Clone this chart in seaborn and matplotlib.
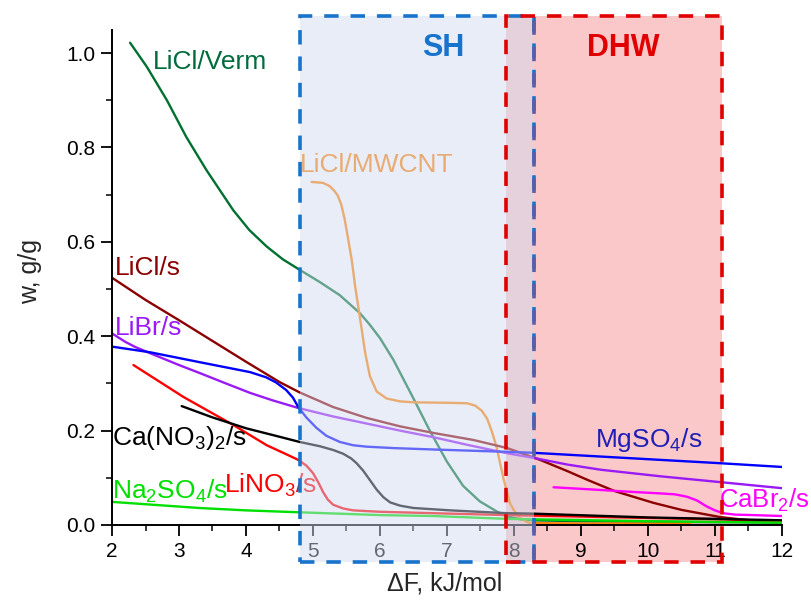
import matplotlib
matplotlib.use("Agg")
import matplotlib.pyplot as plt
import seaborn as sns
from matplotlib.patches import Rectangle
from matplotlib.ticker import MultipleLocator

# ---------------- data ----------------
verm_x = [2.27, 2.52, 2.82, 3.11, 3.41, 3.81, 4.05, 4.31, 4.55, 4.81, 5.1, 5.4, 5.7, 5.85, 6.0,
          6.2, 6.5, 6.75, 7.0, 7.24, 7.49, 7.74, 7.89, 8.1, 8.29, 9.0, 10.0, 11.0, 12.0]
verm_y = [1.022, 0.971, 0.900, 0.822, 0.752, 0.667, 0.625, 0.590, 0.563, 0.540, 0.515, 0.487,
          0.449, 0.424, 0.396, 0.350, 0.268, 0.198, 0.134, 0.083, 0.050, 0.029, 0.018, 0.012,
          0.010, 0.008, 0.007, 0.006, 0.005]

mwcnt_x = [4.98, 5.15, 5.25, 5.32, 5.37, 5.42, 5.47, 5.52, 5.58, 5.63, 5.70, 5.78, 5.85, 5.95,
           6.1, 6.3, 6.5, 7.0, 7.3, 7.42, 7.52, 7.6, 7.67, 7.74, 7.84, 7.94, 8.02, 8.09, 8.17, 8.24,
           9.0, 10.0, 10.63]
mwcnt_y = [0.727, 0.725, 0.718, 0.708, 0.698, 0.680, 0.650, 0.610, 0.560, 0.505, 0.440, 0.364,
           0.315, 0.283, 0.268, 0.262, 0.260, 0.259, 0.258, 0.253, 0.242, 0.225, 0.198, 0.165,
           0.100, 0.046, 0.026, 0.015, 0.008, 0.004, 0.003, 0.003, 0.003]

licl_x = [2.0, 2.5, 3.0, 3.5, 4.0, 4.5, 4.8, 5.3, 5.8, 6.3, 6.8, 7.4, 7.9, 8.39, 8.8, 9.09, 9.5,
          10.08, 10.5, 11.07, 11.5, 12.0]
licl_y = [0.524, 0.477, 0.434, 0.390, 0.346, 0.303, 0.281, 0.250, 0.227, 0.209, 0.195, 0.180,
          0.163, 0.138, 0.114, 0.096, 0.072, 0.047, 0.032, 0.017, 0.010, 0.005]

libr_x = [2.0, 2.1, 2.2, 2.35, 2.57, 3.0, 3.31, 3.7, 4.06, 4.4, 4.78, 5.3, 5.8, 6.3, 6.8, 7.3,
          7.9, 8.3, 8.8, 9.3, 10.2, 11.07, 12.0]
libr_y = [0.406, 0.397, 0.388, 0.377, 0.364, 0.339, 0.322, 0.300, 0.280, 0.264, 0.248, 0.230,
          0.215, 0.200, 0.186, 0.170, 0.152, 0.142, 0.128, 0.117, 0.103, 0.091, 0.078]

mgso4_x = [2.0, 2.57, 3.31, 4.06, 4.3, 4.45, 4.6, 4.7, 4.78, 4.9, 5.05, 5.2, 5.4, 5.6, 5.8, 6.2,
           6.8, 7.9, 8.29, 11.07, 12.0]
mgso4_y = [0.378, 0.366, 0.345, 0.324, 0.313, 0.302, 0.286, 0.270, 0.250, 0.228, 0.206, 0.189,
           0.176, 0.169, 0.166, 0.163, 0.160, 0.155, 0.153, 0.131, 0.123]

lino3_x = [2.32, 3.07, 3.81, 4.31, 4.6, 4.78, 4.9, 5.0, 5.08, 5.15, 5.22, 5.3, 5.45, 5.6, 6.0, 6.8,
           7.9, 8.3, 10.0, 11.07, 12.0]
lino3_y = [0.339, 0.271, 0.212, 0.169, 0.150, 0.138, 0.126, 0.110, 0.090, 0.070, 0.054, 0.043,
           0.035, 0.031, 0.028, 0.025, 0.021, 0.020, 0.015, 0.012, 0.008]

cano3_x = [3.04, 3.5, 4.0, 4.5, 4.8, 5.1, 5.3, 5.45, 5.57, 5.65, 5.75, 5.85, 5.95, 6.05, 6.15,
           6.3, 6.5, 7.05, 7.9, 8.3, 10.0, 12.0]
cano3_y = [0.252, 0.228, 0.205, 0.187, 0.176, 0.167, 0.159, 0.151, 0.141, 0.131, 0.115, 0.095,
           0.075, 0.059, 0.048, 0.041, 0.036, 0.031, 0.025, 0.024, 0.016, 0.010]

na2so4_x = [2.0, 2.5, 3.31, 4.0, 4.78, 6.0, 6.8, 7.9, 8.29, 10.0, 12.0]
na2so4_y = [0.049, 0.044, 0.036, 0.031, 0.027, 0.021, 0.019, 0.013, 0.012, 0.008, 0.005]

cabr2_x = [8.59, 9.2, 9.78, 10.18, 10.4, 10.58, 10.73, 10.88, 11.0, 11.12, 11.3, 11.57, 12.0]
cabr2_y = [0.080, 0.075, 0.070, 0.067, 0.065, 0.060, 0.052, 0.039, 0.031, 0.025, 0.022, 0.021,
           0.019]

series = [
    ("LiCl/Verm", verm_x, verm_y, "#007030"),
    ("LiCl/MWCNT", mwcnt_x, mwcnt_y, "#FF8000"),
    ("LiCl/s", licl_x, licl_y, "#8B0000"),
    ("LiBr/s", libr_x, libr_y, "#9A1AF5"),
    ("MgSO4/s", mgso4_x, mgso4_y, "#0000FF"),
    ("LiNO3/s", lino3_x, lino3_y, "#FF0000"),
    ("Ca(NO3)2/s", cano3_x, cano3_y, "#000000"),
    ("Na2SO4/s", na2so4_x, na2so4_y, "#00E000"),
    ("CaBr2/s", cabr2_x, cabr2_y, "#FF00FF"),
]

# labels: text, x, y(baseline), color
labels = [
    ("LiCl/Verm", 2.61, 0.966, "#006B3C"),
    ("LiCl/MWCNT", 4.81, 0.749, "#FF8000"),
    ("LiCl/s", 2.04, 0.530, "#8B0000"),
    ("LiBr/s", 2.04, 0.403, "#9A1AF5"),
    ("Ca(NO$_3$)$_2$/s", 2.0, 0.169, "#000000"),
    ("LiNO$_3$/s", 3.67, 0.068, "#FF0000"),
    ("Na$_2$SO$_4$/s", 2.0, 0.055, "#00E000"),
    ("MgSO$_4$/s", 9.21, 0.166, "#1F1FB8"),
    ("CaBr$_2$/s", 11.06, 0.036, "#FF00FF"),
]

sh_range = (4.806, 8.30)
dhw_range = (7.88, 11.104)
box_y = (-0.078, 1.078)

# ---------------- style ----------------
sns.set_style("ticks")
plt.rcParams["font.family"] = ["Liberation Sans", "DejaVu Sans"]
plt.rcParams["mathtext.fontset"] = "custom"
plt.rcParams["mathtext.rm"] = "Liberation Sans"
plt.rcParams["mathtext.it"] = "Liberation Sans:italic"
plt.rcParams["mathtext.bf"] = "Liberation Sans:bold"

fig = plt.figure(figsize=(8.11, 6.06), dpi=100)
ax = fig.add_axes([112 / 811, 1 - 525 / 606, 670 / 811, 495 / 606])

for name, xs, ys, col in series:
    sns.lineplot(x=xs, y=ys, ax=ax, color=col, lw=1.7, sort=False, estimator=None, zorder=2)
for ln in ax.lines:
    ln.set_solid_joinstyle("round")
    ln.set_solid_capstyle("round")

for txt, x, y, col in labels:
    fs = 18.5 if txt.startswith("CaBr") else 19
    ax.text(x, y, txt, color=col, fontsize=fs, ha="left", va="baseline", zorder=2.2, clip_on=False)

ax.set_xlim(2, 12)
ax.set_ylim(0, 1.049)
ax.xaxis.set_major_locator(MultipleLocator(1))
ax.xaxis.set_minor_locator(MultipleLocator(0.5))
ax.yaxis.set_major_locator(MultipleLocator(0.2))
ax.yaxis.set_minor_locator(MultipleLocator(0.1))
ax.tick_params(which="major", direction="out", length=8, width=1.3, labelsize=15, pad=4, colors="black")
ax.tick_params(which="minor", direction="out", length=4.5, width=1.3)
ax.set_xlabel("")
ax.set_ylabel("")
for s in ["top", "right"]:
    ax.spines[s].set_visible(False)
for s in ["left", "bottom"]:
    ax.spines[s].set_linewidth(1.4)
    ax.spines[s].set_color("black")

# DHW fill beneath the curves
ax.add_patch(Rectangle((dhw_range[0], box_y[0]), dhw_range[1] - dhw_range[0], box_y[1] - box_y[0],
                       facecolor="#FAC8C8", edgecolor="none", zorder=0.5, clip_on=False))
# SH translucent overlay on top of curves
ax.add_patch(Rectangle((sh_range[0], box_y[0]), sh_range[1] - sh_range[0], box_y[1] - box_y[0],
                       facecolor=(208 / 255, 219 / 255, 240 / 255), alpha=0.48, edgecolor="none",
                       zorder=3, clip_on=False))
# borders
dash = (0, (4, 3.3))
ax.add_patch(Rectangle((sh_range[0], box_y[0]), sh_range[1] - sh_range[0], box_y[1] - box_y[0],
                       facecolor="none", edgecolor="#1873CC", lw=2.6, linestyle=dash,
                       zorder=4, clip_on=False))
ax.plot([sh_range[1], sh_range[1]], [box_y[0], box_y[1]], color="#5B5EA6", lw=2.6,
        linestyle=dash, zorder=4.1, clip_on=False)
ax.add_patch(Rectangle((dhw_range[0], box_y[0]), dhw_range[1] - dhw_range[0], box_y[1] - box_y[0],
                       facecolor="none", edgecolor="#E00000", lw=2.6, linestyle=dash,
                       zorder=5, clip_on=False))

ax.text(6.94, 0.994, "SH", color="#1873CC", fontsize=22, fontweight="bold", ha="center",
        va="baseline", zorder=6)
ax.text(9.63, 0.994, "DHW", color="#E00000", fontsize=22, fontweight="bold", ha="center",
        va="baseline", zorder=6)

fig.text(445 / 811, 1 - 584 / 606, "ΔF, kJ/mol", fontsize=18, ha="center", va="center")
fig.text(30 / 811, 1 - 271 / 606, "w, g/g", fontsize=18, ha="center", va="center", rotation=90)

fig.savefig("out.png", dpi=100)
